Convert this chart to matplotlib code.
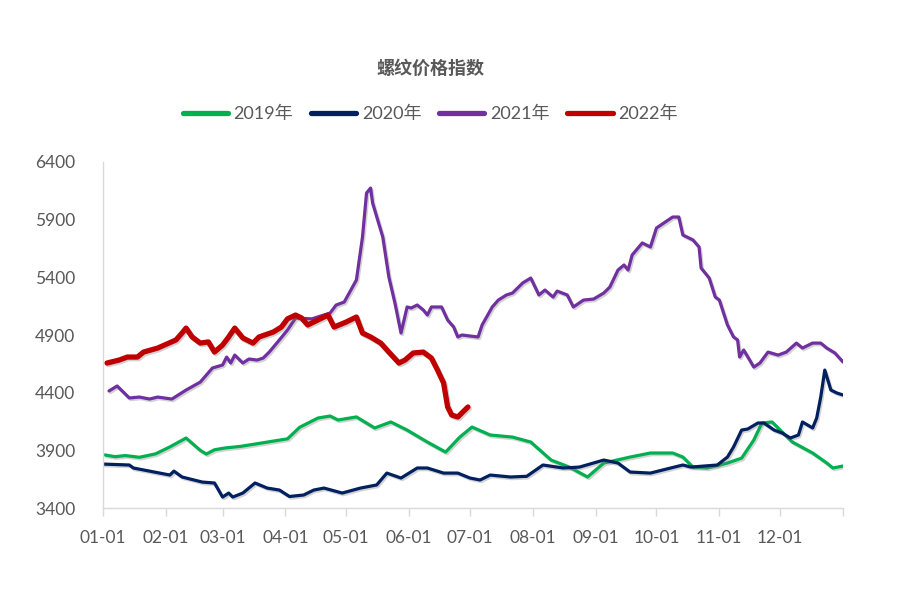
import matplotlib.pyplot as plt
import matplotlib.patheffects as pe

plt.rcParams['font.family'] = ['Lato', 'Noto Sans CJK SC', 'DejaVu Sans']

# day of year, value
d2019 = [1, 6, 11, 18, 26, 33, 41, 48, 51, 55, 60, 68, 78, 91, 97, 106, 112, 116, 125, 134,
         142, 150, 160, 169, 176, 182, 191, 202, 211, 221, 230, 239, 247, 260, 270, 281, 286,
         291, 298, 308, 315, 321, 325, 330, 334, 340, 350, 357, 360, 365]
v2019 = [3860, 3845, 3855, 3840, 3870, 3930, 4007, 3900, 3868, 3905, 3920, 3935, 3963, 4000,
         4100, 4180, 4198, 4163, 4190, 4094, 4146, 4076, 3972, 3885, 4015, 4102, 4033, 4015,
         3972, 3816, 3755, 3669, 3790, 3842, 3877, 3877, 3842, 3755, 3747, 3790, 3833, 3990,
         4137, 4146, 4076, 3972, 3877, 3790, 3747, 3764]

d2020 = [0, 13, 15, 33, 35, 39, 49, 55, 59, 62, 64, 69, 75, 81, 87, 92, 99, 104, 109, 118,
         127, 135, 140, 147, 155, 160, 168, 175, 181, 186, 191, 201, 209, 217, 227, 235, 247,
         254, 260, 270, 280, 286, 290, 303, 308, 311, 315, 318, 323, 326, 331, 335, 339, 343,
         345, 350, 352, 354, 356, 359, 362, 365]
v2020 = [3781, 3773, 3747, 3686, 3720, 3669, 3625, 3617, 3495, 3530, 3495, 3530, 3617, 3573,
         3556, 3500, 3513, 3556, 3573, 3530, 3573, 3600, 3703, 3660, 3747, 3747, 3703, 3703,
         3660, 3643, 3686, 3669, 3675, 3773, 3747, 3755, 3816, 3790, 3712, 3703, 3747, 3773,
         3755, 3773, 3842, 3929, 4076, 4085, 4137, 4137, 4076, 4050, 4007, 4033, 4146, 4094,
         4180, 4362, 4596, 4423, 4397, 4380]

d2021 = [3, 7, 10, 13, 18, 23, 27, 34, 41, 48, 54, 59, 61, 63, 65, 69, 72, 76, 79, 82, 87,
         91, 95, 103, 112, 115, 119, 125, 128, 130, 132, 133, 138, 141, 144, 147, 150, 152,
         155, 158, 160, 162, 167, 170, 173, 175, 177, 185, 187, 192, 195, 199, 202, 207, 211,
         215, 218, 222, 224, 229, 232, 237, 242, 247, 250, 254, 257, 259, 261, 266, 270, 273,
         281, 284, 286, 291, 294, 295, 299, 302, 304, 308, 311, 313, 314, 316, 321, 324, 328,
         333, 337, 342, 345, 350, 354, 357, 361, 365]
v2021 = [4415, 4458, 4406, 4354, 4362, 4345, 4362, 4345, 4423, 4492, 4614, 4640, 4709, 4657,
         4726, 4657, 4692, 4683, 4700, 4752, 4857, 4943, 5047, 5040, 5090, 5160, 5186, 5377,
         5750, 6131, 6174, 6044, 5750, 5403, 5177, 4917, 5143, 5134, 5160, 5117, 5073, 5143,
         5143, 5030, 4969, 4883, 4900, 4883, 4987, 5143, 5203, 5247, 5264, 5351, 5394, 5247,
         5290, 5229, 5281, 5247, 5143, 5203, 5212, 5264, 5316, 5463, 5507, 5463, 5594, 5698,
         5663, 5828, 5923, 5923, 5767, 5724, 5663, 5481, 5394, 5229, 5203, 4987, 4883, 4857,
         4709, 4770, 4622, 4657, 4752, 4726, 4752, 4830, 4787, 4830, 4830, 4787, 4744, 4666]

d2022 = [2, 8, 12, 17, 20, 27, 36, 39, 41, 44, 48, 52, 55, 59, 62, 65, 69, 74, 77, 84, 88,
         91, 95, 98, 101, 106, 111, 114, 120, 125, 128, 132, 137, 141, 146, 149, 153, 158,
         162, 165, 168, 170, 172, 175, 177, 180]
v2022 = [4657, 4683, 4709, 4709, 4752, 4787, 4857, 4917, 4960, 4883, 4830, 4840, 4752, 4813,
         4883, 4960, 4874, 4830, 4883, 4926, 4969, 5040, 5073, 5047, 4987, 5030, 5073, 4969,
         5013, 5056, 4917, 4883, 4830, 4752, 4657, 4683, 4744, 4752, 4700, 4596, 4484, 4276,
         4206, 4189, 4224, 4276]

month_days = [0, 31, 59, 90, 120, 151, 181, 212, 243, 273, 304, 334, 365]
month_labels = ['01-01', '02-01', '03-01', '04-01', '05-01', '06-01', '07-01', '08-01',
                '09-01', '10-01', '11-01', '12-01', '']

fig = plt.figure(figsize=(9, 5.91), dpi=100)
ax = fig.add_axes([0.1144, 0.1404, 0.8223, 0.5855])

shadow = [pe.SimpleLineShadow(offset=(1, -1.2), shadow_color='gray', alpha=0.35), pe.Normal()]
style = dict(path_effects=shadow, solid_capstyle='round', solid_joinstyle='round')
ax.plot(d2019, v2019, color='#00B050', lw=2.3, label='2019年', **style)
ax.plot(d2020, v2020, color='#002060', lw=2.3, label='2020年', **style)
ax.plot(d2021, v2021, color='#7030A0', lw=2.3, label='2021年', **style)
ax.plot(d2022, v2022, color='#C00000', lw=3.8, label='2022年', **style)

ax.set_xlim(0, 365)
ax.set_ylim(3400, 6400)
ax.set_yticks(range(3400, 6401, 500))
ax.set_xticks(month_days)
ax.set_xticklabels(month_labels)
ax.tick_params(axis='y', length=0, pad=20, labelsize=12.5, labelcolor='#595959')
ax.tick_params(axis='x', length=6, width=1, color='#D9D9D9', pad=10, labelsize=12.5,
               labelcolor='#595959')
for s in ['top', 'right']:
    ax.spines[s].set_visible(False)
for s in ['left', 'bottom']:
    ax.spines[s].set_color('#D9D9D9')
    ax.spines[s].set_linewidth(1)

fig.text(0.478, 0.885, '螺纹价格指数', ha='center', va='center', fontsize=13,
         fontweight='bold', color='#595959', family=['Noto Sans CJK SC'])
leg = fig.legend(loc='center', bbox_to_anchor=(0.478, 0.807), ncol=4, frameon=False,
                 fontsize=13, handlelength=2.5, columnspacing=1.0, handletextpad=0.3,
                 labelcolor='#595959')
for ln in leg.get_lines():
    ln.set_linewidth(3.8)
    ln.set_solid_capstyle('round')
    ln.set_path_effects([])

fig.savefig('out.png', dpi=100)
